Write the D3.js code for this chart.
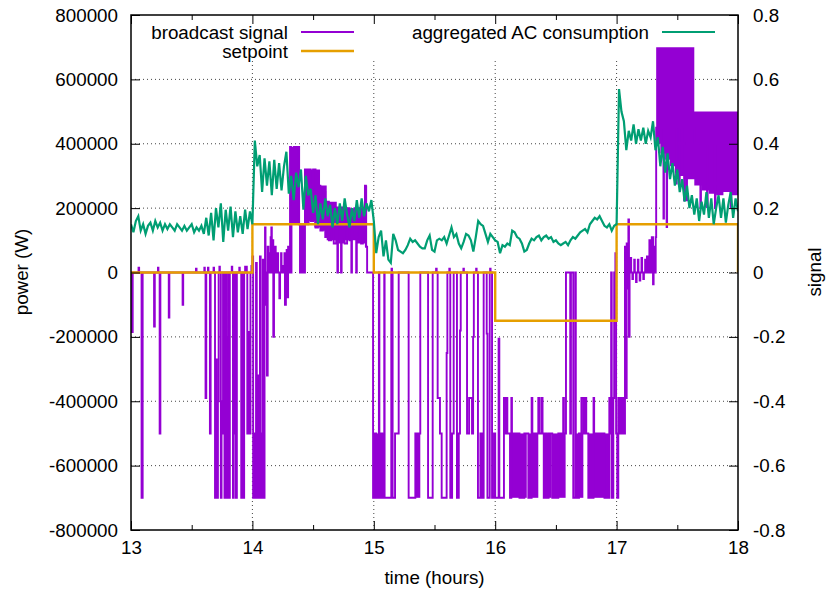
<!DOCTYPE html>
<html>
<head>
<meta charset="utf-8">
<script src="https://cdn.jsdelivr.net/npm/d3@7"></script>
<style>
  body { margin: 0; background: #fff; }
  svg text { font-family: "Liberation Sans", Arial, sans-serif; font-size: 18.8px; fill: #000; }
</style>
</head>
<body>
<script>
"use strict";

// ---- DATA ----------------------------------------------------------------
var hourTicks = [13, 14, 15, 16, 17, 18];
var hourMinorTicks = [13.5, 14.5, 15.5, 16.5, 17.5];
var powerTicks = [-800000, -600000, -400000, -200000, 0, 200000, 400000, 600000, 800000];
var signalTicks = [-0.8, -0.6, -0.4, -0.2, 0, 0.2, 0.4, 0.6, 0.8];

// setpoint steps [hour, W]
var setpointSteps = [[13, 0], [14, 150000], [15, 0], [16, -150000], [17, 150000], [18, 0]];

// aggregated AC consumption (W), sampled every 0.02 h from 13:00, one row = 0.2 h
var acStart = 13, acStep = 0.02;
var acPower = [
  150000,125000,160000,175000,130000,150000,120000,145000,155000,130000, // 13.0
  160000,140000,155000,130000,150000,135000,150000,140000,130000,150000, // 13.2
  140000,130000,145000,130000,140000,150000,125000,140000,130000,145000, // 13.4
  120000,170000,115000,185000,100000,200000,140000,215000,95000,195000,  // 13.6
  130000,205000,110000,190000,125000,175000,120000,195000,135000,190000, // 13.8
  150000,410000,330000,365000,250000,355000,270000,345000,240000,350000, // 14.0
  260000,340000,255000,330000,375000,245000,300000,225000,310000,265000, // 14.2
  320000,195000,300000,240000,260000,185000,240000,150000,215000,165000, // 14.4
  230000,175000,210000,140000,200000,150000,215000,160000,230000,180000, // 14.6
  140000,200000,160000,225000,170000,230000,175000,215000,190000,225000, // 14.8
  160000,60000,110000,130000,50000,100000,40000,30000,120000,100000,     // 15.0
  70000,65000,60000,70000,85000,105000,95000,100000,90000,80000,         // 15.2
  75000,75000,100000,115000,70000,65000,100000,105000,100000,110000,     // 15.4
  90000,115000,140000,110000,120000,90000,75000,95000,120000,115000,     // 15.6
  100000,65000,110000,160000,150000,145000,120000,95000,120000,110000,   // 15.8
  100000,95000,60000,85000,80000,90000,85000,130000,125000,110000,       // 16.0
  105000,90000,65000,70000,90000,105000,100000,110000,115000,100000,     // 16.2
  110000,115000,105000,110000,95000,100000,90000,85000,90000,95000,      // 16.4
  85000,100000,110000,105000,115000,125000,130000,135000,125000,150000,  // 16.6
  160000,170000,165000,175000,160000,145000,140000,150000,130000,145000, // 16.8
  150000,570000,500000,470000,380000,440000,410000,460000,400000,445000, // 17.0
  410000,450000,400000,440000,420000,470000,380000,420000,330000,390000, // 17.2
  310000,370000,290000,340000,270000,320000,250000,290000,220000,270000, // 17.4
  200000,240000,180000,230000,160000,220000,180000,250000,170000,230000, // 17.6
  150000,200000,240000,170000,230000,155000,210000,250000,170000,230000, // 17.8
  190000                                                                 // 18.0
];

// broadcast signal, step line [hour, W]
var broadcastSteps = [
  [13.000,0],[13.008,-185000],[13.014,0],[13.062,15000],[13.067,0],
  [13.087,-700000],[13.096,0],[13.190,-168000],[13.196,0],[13.222,15000],[13.226,0],
  [13.236,-500000],[13.242,0],[13.311,-140000],[13.316,0],[13.425,-100000],[13.430,0],
  [13.535,12000],[13.540,0],[13.604,15000],[13.608,0],[13.614,-390000],[13.620,0],
  [13.634,15000],[13.638,0],[13.650,-500000],[13.656,0],
  [13.680,15000],[13.684,0],[13.692,-700000],[13.700,-270000],[13.706,-700000],[13.716,-400000],[13.722,0],
  [13.728,18000],[13.732,0],[13.740,-700000],[13.746,-400000],[13.752,-500000],[13.758,0],
  [13.770,-700000],[13.776,0],[13.784,-320000],[13.790,-700000],[13.796,-200000],[13.800,0],
  [13.808,-700000],[13.814,0],[13.830,18000],[13.834,0],[13.840,-700000],[13.846,0],
  [13.858,-500000],[13.864,-700000],[13.872,0],
  [13.892,15000],[13.896,0],[13.908,-700000],[13.916,0],[13.924,-700000],[13.932,0],
  [13.940,18000],[13.944,0],[13.950,18000],[13.954,0],
  [13.958,-500000],[13.966,-185000],[13.974,-500000],[13.984,0],[13.992,20000],[13.996,0],
  [14.000,50000],[14.006,-700000],[14.014,-500000],[14.020,-700000],[14.030,30000],[14.036,-700000],
  [14.046,-320000],[14.052,-700000],[14.062,50000],[14.068,-700000],[14.080,-500000],[14.086,40000],
  [14.094,-700000],[14.100,0],[14.104,140000],[14.108,-100000],[14.116,0],[14.120,-320000],
  [14.126,80000],[14.132,0],[14.138,60000],[14.142,0],[14.150,110000],[14.156,140000],[14.160,0],
  [14.166,100000],[14.172,-200000],[14.178,0],[14.186,80000],[14.192,0],[14.206,60000],[14.212,0],
  [14.222,-80000],[14.228,0],[14.236,60000],[14.240,0],[14.252,20000],[14.258,0],[14.264,60000],
  [14.268,-100000],[14.276,0],[14.282,70000],[14.288,-77000],[14.294,80000],[14.300,0],
  [14.310,390000],[14.318,0],[14.322,200000],[14.340,390000],[14.350,160000],[14.365,390000],
  [14.385,150000],[14.392,0],[14.398,150000],[14.405,0],[14.412,120000],[14.420,0],[14.433,320000],
  [14.445,150000],[14.460,320000],[14.480,160000],[14.500,320000],[14.520,140000],[14.540,270000],
  [14.560,130000],[14.580,250000],[14.600,110000],[14.612,220000],[14.630,100000],[14.650,210000],
  [14.670,90000],[14.690,200000],[14.700,0],[14.705,100000],[14.720,200000],[14.730,0],[14.735,110000],
  [14.750,200000],[14.760,90000],[14.780,200000],[14.800,100000],[14.815,0],[14.820,110000],
  [14.840,200000],[14.855,0],[14.860,100000],[14.880,200000],[14.895,90000],[14.910,200000],
  [14.927,270000],[14.935,80000],[14.945,0],
  [14.994,-700000],[15.010,-500000],[15.020,-700000],[15.042,0],[15.046,-700000],[15.060,-500000],
  [15.070,-700000],[15.086,0],[15.089,-700000],[15.144,0],[15.146,12000],[15.150,0],
  [15.155,-700000],[15.175,-500000],[15.205,0],[15.287,-700000],[15.342,-500000],[15.383,0],
  [15.447,-700000],[15.485,0],[15.513,12000],[15.518,0],
  [15.526,-390000],[15.545,-500000],[15.559,-700000],[15.600,-250000],[15.606,0],[15.622,12000],[15.626,0],
  [15.630,-700000],[15.645,-500000],[15.658,0],[15.685,-700000],[15.700,-500000],[15.710,-180000],[15.716,0],
  [15.738,12000],[15.742,0],[15.768,-500000],[15.785,-390000],[15.809,-500000],[15.818,-200000],[15.824,0],
  [15.843,12000],[15.847,0],[15.858,-700000],[15.878,-500000],[15.890,-700000],[15.905,0],
  [15.930,-190000],[15.936,-700000],[15.955,0],[15.958,12000],[15.962,0],
  [15.974,-700000],[15.990,-500000],[16.000,-700000],[16.028,-206000],[16.034,-700000],[16.072,-390000],
  [16.085,-500000],[16.095,-390000],[16.100,-500000],[16.122,-700000],[16.133,-390000],[16.138,-500000],
  [16.200,-700000],[16.240,-500000],[16.273,-700000],[16.300,-390000],[16.306,-500000],[16.355,-390000],
  [16.362,-500000],[16.380,-390000],[16.390,-500000],[16.400,-700000],[16.410,-500000],[16.424,-700000],
  [16.440,-500000],[16.470,-700000],[16.520,-500000],[16.560,-390000],[16.566,-500000],[16.583,0],
  [16.618,-500000],[16.624,0],[16.643,-700000],[16.660,0],[16.664,-700000],[16.690,-500000],
  [16.710,-390000],[16.726,-500000],[16.740,-390000],[16.750,-500000],[16.767,-700000],[16.810,-390000],
  [16.815,-500000],[16.900,-700000],[16.940,-390000],[16.946,-500000],[16.955,0],[16.960,-700000],
  [16.973,-390000],[16.980,0],[16.990,60000],[16.996,-500000],[17.005,-700000],[17.014,-390000],
  [17.020,-500000],[17.030,-390000],[17.040,-500000],[17.050,-390000],[17.060,-500000],[17.069,80000],
  [17.075,-390000],[17.083,90000],[17.090,-50000],[17.097,165000],[17.102,-200000],[17.107,0],
  [17.115,45000],[17.120,0],[17.130,-20000],[17.135,0],[17.145,40000],[17.150,0],[17.160,-30000],
  [17.165,0],[17.175,40000],[17.180,0],[17.190,-25000],[17.195,0],[17.205,45000],[17.210,0],
  [17.220,-20000],[17.225,0],[17.235,40000],[17.240,0],[17.250,50000],[17.255,0],[17.270,100000],
  [17.280,0],[17.290,110000],[17.300,-37000],[17.305,80000],[17.310,0],[17.322,110000],
  [17.326,450000],[17.386,168000],[17.390,450000],[17.412,141000],[17.416,450000],[17.490,276000],
  [17.495,450000],[17.515,276000],[17.520,450000],[17.556,224000],[17.560,450000],[17.576,224000],
  [17.580,450000],[17.640,400000],[17.690,203000],[17.695,400000],[17.745,203000],[17.750,400000],
  [17.810,200000],[17.815,400000],[17.940,203000],[17.945,400000],[18.000,400000]
];

// stretches where the broadcast signal flips too fast to separate: [from, to, low, high]
var broadcastDense = [
  [14.994, 15.086, -700000, -500000],
  [15.342, 15.383, -700000, -500000],
  [16.122, 16.260, -700000, -500000],
  [16.273, 16.355, -700000, -500000],
  [16.424, 16.465, -700000, -500000],
  [16.470, 16.580, -700000, -500000],
  [16.664, 16.726, -700000, -500000],
  [16.767, 16.946, -700000, -500000]
];
// bands of fast positive flips, envelope [hour, low, high]
var broadcastBandA = [
  [14.310, 150000, 390000], [14.392, 0, 150000], [14.433, 150000, 320000], [14.470, 160000, 320000],
  [14.510, 140000, 320000], [14.557, 130000, 270000], [14.612, 100000, 220000], [14.695, 90000, 205000],
  [14.760, 100000, 200000], [14.804, 100000, 200000], [14.860, 90000, 200000], [14.927, 80000, 270000],
  [14.945, 0, 0]
];
var broadcastBandB = [
  [17.326, 400000, 700000], [17.36, 370000, 700000], [17.40, 350000, 700000], [17.44, 330000, 700000],
  [17.48, 310000, 700000], [17.52, 300000, 700000], [17.56, 290000, 700000], [17.60, 290000, 700000],
  [17.64, 270000, 500000], [17.70, 255000, 500000], [17.76, 245000, 500000], [17.82, 240000, 500000],
  [17.88, 250000, 500000], [17.94, 240000, 500000], [18.00, 240000, 500000]
];

var legendLabels = ['broadcast signal', 'setpoint', 'aggregated AC consumption'];

(function() {
  // ---- DRAW --------------------------------------------------------------
  var purple = '#9400d3', orange = '#e69f00', green = '#009e73';
  var W = 827, H = 591;
  var pLeft = 131, pRight = 738, pTop = 15, pBottom = 530;

  var x = d3.scaleLinear().domain([13, 18]).range([pLeft, pRight]);
  var y = d3.scaleLinear().domain([-800000, 800000]).range([pBottom, pTop]);
  var y2 = d3.scaleLinear().domain([-0.8, 0.8]).range([pBottom, pTop]);

  var svg = d3.select('body').append('svg')
    .attr('width', W)
    .attr('height', H);

  svg.append('rect').attr('width', W).attr('height', H).attr('fill', '#fff');

  svg.append('clipPath').attr('id', 'plotclip')
    .append('rect')
    .attr('x', pLeft).attr('y', pTop)
    .attr('width', pRight - pLeft).attr('height', pBottom - pTop);

  // grid (the key box hides its top part)
  var legendBottom = 61;
  var grid = svg.append('g')
    .attr('stroke', '#444')
    .attr('stroke-width', 1)
    .attr('stroke-dasharray', '1,3');
  grid.selectAll('.vg')
    .data(hourTicks.filter(function(d) { return d > 13 && d < 18; }))
    .enter().append('line')
    .attr('x1', function(d) { return x(d); }).attr('x2', function(d) { return x(d); })
    .attr('y1', legendBottom).attr('y2', pBottom);
  grid.selectAll('.hg')
    .data(powerTicks.filter(function(d) { return Math.abs(d) < 800000; }))
    .enter().append('line')
    .attr('x1', pLeft).attr('x2', pRight)
    .attr('y1', function(d) { return y(d); }).attr('y2', function(d) { return y(d); });

  var plot = svg.append('g').attr('clip-path', 'url(#plotclip)');

  // broadcast signal
  plot.selectAll('.dense')
    .data(broadcastDense)
    .enter().append('rect')
    .attr('x', function(d) { return x(d[0]); })
    .attr('width', function(d) { return x(d[1]) - x(d[0]); })
    .attr('y', function(d) { return y(d[3]); })
    .attr('height', function(d) { return y(d[2]) - y(d[3]); })
    .attr('fill', purple);

  var band = d3.area()
    .curve(d3.curveStepAfter)
    .x(function(d) { return x(d[0]); })
    .y0(function(d) { return y(d[1]); })
    .y1(function(d) { return y(d[2]); });
  [broadcastBandA, broadcastBandB].forEach(function(b) {
    plot.append('path').attr('d', band(b)).attr('fill', purple);
  });

  var stepLine = d3.line()
    .curve(d3.curveStepAfter)
    .x(function(d) { return x(d[0]); })
    .y(function(d) { return y(d[1]); });

  plot.append('path')
    .attr('d', stepLine(broadcastSteps))
    .attr('fill', 'none')
    .attr('stroke', purple)
    .attr('stroke-width', 1.9);

  // setpoint
  plot.append('path')
    .attr('d', stepLine(setpointSteps))
    .attr('fill', 'none')
    .attr('stroke', orange)
    .attr('stroke-width', 2.4);

  // AC consumption
  var acLine = d3.line()
    .x(function(d, i) { return x(acStart + i * acStep); })
    .y(function(d) { return y(d); });
  plot.append('path')
    .attr('d', acLine(acPower))
    .attr('fill', 'none')
    .attr('stroke', green)
    .attr('stroke-width', 2.2);

  // axes
  function cleanAxis(g) {
    g.select('.domain').remove();
    g.selectAll('.tick line').attr('stroke', '#000').attr('stroke-width', 1);
  }
  svg.append('g')
    .attr('transform', 'translate(0,' + pBottom + ')')
    .call(d3.axisBottom(x).tickValues(hourTicks).tickSize(-9).tickPadding(11).tickFormat(d3.format('d')))
    .call(cleanAxis);
  svg.append('g')
    .attr('transform', 'translate(0,' + pBottom + ')')
    .call(d3.axisBottom(x).tickValues(hourMinorTicks).tickSize(-5).tickFormat(''))
    .call(cleanAxis);
  svg.append('g')
    .attr('transform', 'translate(0,' + pTop + ')')
    .call(d3.axisTop(x).tickValues(hourTicks).tickSize(-9).tickFormat(''))
    .call(cleanAxis);
  svg.append('g')
    .attr('transform', 'translate(0,' + pTop + ')')
    .call(d3.axisTop(x).tickValues(hourMinorTicks).tickSize(-5).tickFormat(''))
    .call(cleanAxis);
  svg.append('g')
    .attr('transform', 'translate(' + pLeft + ',0)')
    .call(d3.axisLeft(y).tickValues(powerTicks).tickSize(-9).tickPadding(13)
      .tickFormat(function(d) { return String(d); }))
    .call(cleanAxis);
  svg.append('g')
    .attr('transform', 'translate(' + pRight + ',0)')
    .call(d3.axisRight(y2).tickValues(signalTicks).tickSize(-9).tickPadding(15)
      .tickFormat(function(d) { return String(+d.toFixed(1)); }))
    .call(cleanAxis);

  svg.selectAll('.tick text')
    .attr('font-family', '"Liberation Sans", Arial, sans-serif')
    .attr('font-size', '18.8px')
    .attr('fill', '#000');

  // border
  svg.append('rect')
    .attr('x', pLeft).attr('y', pTop)
    .attr('width', pRight - pLeft).attr('height', pBottom - pTop)
    .attr('fill', 'none')
    .attr('stroke', '#000')
    .attr('stroke-width', 1.5);

  // axis titles
  svg.append('text')
    .attr('x', (pLeft + pRight) / 2).attr('y', 584)
    .attr('text-anchor', 'middle')
    .text('time (hours)');
  svg.append('text')
    .attr('transform', 'translate(28,272) rotate(-90)')
    .attr('text-anchor', 'middle')
    .text('power (W)');
  svg.append('text')
    .attr('transform', 'translate(821,272) rotate(-90)')
    .attr('text-anchor', 'middle')
    .text('signal');

  // legend
  var legendItems = [
    {label: legendLabels[0], color: purple, tx: 288, lx: 301, ly: 32, w: 2},
    {label: legendLabels[1], color: orange, tx: 288, lx: 301, ly: 51, w: 2.4},
    {label: legendLabels[2], color: green, tx: 649, lx: 662, ly: 32, w: 2}
  ];
  var legend = svg.append('g');
  legendItems.forEach(function(d) {
    legend.append('text')
      .attr('x', d.tx).attr('y', d.ly)
      .attr('dy', '0.35em')
      .attr('text-anchor', 'end')
      .text(d.label);
    legend.append('line')
      .attr('x1', d.lx).attr('x2', d.lx + 53)
      .attr('y1', d.ly).attr('y2', d.ly)
      .attr('stroke', d.color)
      .attr('stroke-width', d.w);
  });
})();
</script>
</body>
</html>
